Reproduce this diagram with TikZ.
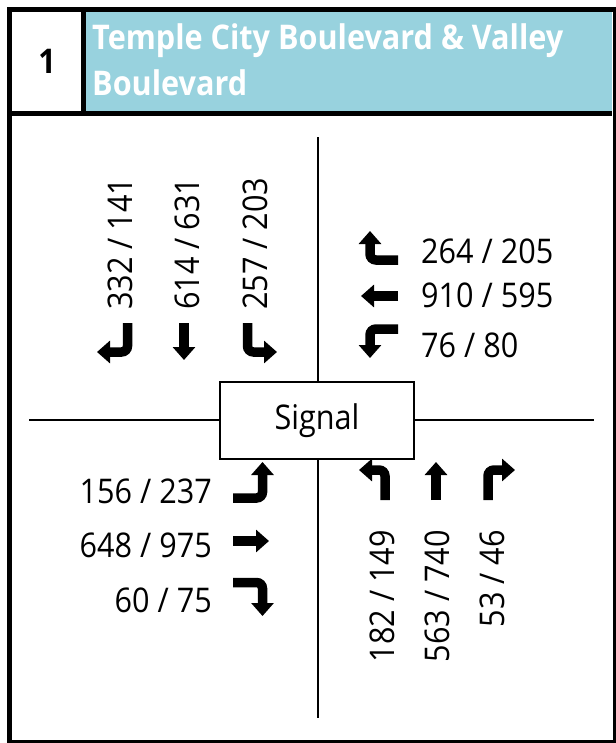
\documentclass[tikz,border=0pt]{standalone}
\usepackage{fontspec}
\setmainfont{Open Sans}[FakeStretch=0.9]
\usetikzlibrary{arrows.meta}
\definecolor{hdrblue}{RGB}{152,210,222}
\begin{document}
\begin{tikzpicture}[x=1bp,y=-1bp,
  lbl/.style={inner sep=0pt,font=\fontsize{34bp}{40bp}\selectfont},
  mv/.style={line width=9.5bp,-{Triangle[width=22bp,length=13bp]},rounded corners=6bp},
  road/.style={line width=2.5bp},
  frame/.style={line width=5bp}]
\useasboundingbox (0,0) rectangle (616,743);
% header
\fill[hdrblue] (86,12) rectangle (612,111);
\draw[frame] (9,9.5) rectangle (615,742);
\draw[frame] (83.5,12) -- (83.5,111);
\draw[frame] (12,113.5) -- (612,113.5);
\node[lbl,font=\fontsize{34bp}{40bp}\selectfont\bfseries] (num) at (47,61) {1};
\node[lbl,anchor=base west,text=white,font=\fontsize{34bp}{40bp}\selectfont\bfseries] (t1) at (92,50) {Temple City Boulevard \& Valley};
\node[lbl,anchor=base west,text=white,font=\fontsize{34bp}{40bp}\selectfont\bfseries] (t2) at (92,95) {Boulevard};
% roads
\coordinate (rw) at (29,420);
\coordinate (re) at (594,420);
\coordinate (rn) at (318,137);
\coordinate (rs) at (318,718);
\draw[road] (rw) -- (re);
\draw[road] (rn) -- (rs);
\node[draw,line width=2bp,fill=white,minimum width=194bp,minimum height=77bp,inner sep=0pt,font=\fontsize{34bp}{40bp}\selectfont] (sig) at (317,420.5) {Signal};
% NW (southbound)
\node[lbl,rotate=90,anchor=west] (sbLt) at (120,310) {332 / 141};
\node[lbl,rotate=90,anchor=west] (sbTt) at (187,310) {614 / 631};
\node[lbl,rotate=90,anchor=west] (sbRt) at (255,310) {257 / 203};
\coordinate (sbL0) at (127.5,323); \coordinate (sbL1) at (127.5,352); \coordinate (sbL2) at (97,352);
\draw[mv] (sbL0) -- (sbL1) -- (sbL2);
\coordinate (sbT0) at (184,323); \coordinate (sbT1) at (184,360);
\draw[mv] (sbT0) -- (sbT1);
\coordinate (sbR0) at (247.5,323); \coordinate (sbR1) at (247.5,352); \coordinate (sbR2) at (277,352);
\draw[mv] (sbR0) -- (sbR1) -- (sbR2);
% NE (westbound)
\node[lbl,anchor=west] (wbRt) at (421,251) {264 / 205};
\node[lbl,anchor=west] (wbTt) at (421,295) {910 / 595};
\node[lbl,anchor=west] (wbLt) at (421,345) {76 / 80};
\coordinate (wbR0) at (398,260); \coordinate (wbR1) at (370,260); \coordinate (wbR2) at (370,231);
\draw[mv] (wbR0) -- (wbR1) -- (wbR2);
\coordinate (wbT0) at (398,296); \coordinate (wbT1) at (361,296);
\draw[mv] (wbT0) -- (wbT1);
\coordinate (wbL0) at (398,329); \coordinate (wbL1) at (370,329); \coordinate (wbL2) at (370,358);
\draw[mv] (wbL0) -- (wbL1) -- (wbL2);
% SW (eastbound)
\node[lbl,anchor=east] (ebLt) at (212,491) {156 / 237};
\node[lbl,anchor=east] (ebTt) at (212,545) {648 / 975};
\node[lbl,anchor=east] (ebRt) at (212,600) {60 / 75};
\coordinate (ebL0) at (233,498); \coordinate (ebL1) at (262.5,498); \coordinate (ebL2) at (262.5,462);
\draw[mv] (ebL0) -- (ebL1) -- (ebL2);
\coordinate (ebT0) at (233,541); \coordinate (ebT1) at (269,541);
\draw[mv] (ebT0) -- (ebT1);
\coordinate (ebR0) at (233,582.5); \coordinate (ebR1) at (262.5,582.5); \coordinate (ebR2) at (262.5,616);
\draw[mv] (ebR0) -- (ebR1) -- (ebR2);
% SE (northbound)
\node[lbl,rotate=90,anchor=east] (nbLt) at (382,530) {182 / 149};
\node[lbl,rotate=90,anchor=east] (nbTt) at (437,530) {563 / 740};
\node[lbl,rotate=90,anchor=east] (nbRt) at (492,530) {53 / 46};
\coordinate (nbL0) at (385,500); \coordinate (nbL1) at (385,470); \coordinate (nbL2) at (359,470);
\draw[mv] (nbL0) -- (nbL1) -- (nbL2);
\coordinate (nbT0) at (436,500); \coordinate (nbT1) at (436,462);
\draw[mv] (nbT0) -- (nbT1);
\coordinate (nbR0) at (488,500); \coordinate (nbR1) at (488,470); \coordinate (nbR2) at (515,470);
\draw[mv] (nbR0) -- (nbR1) -- (nbR2);
\end{tikzpicture}
\end{document}
